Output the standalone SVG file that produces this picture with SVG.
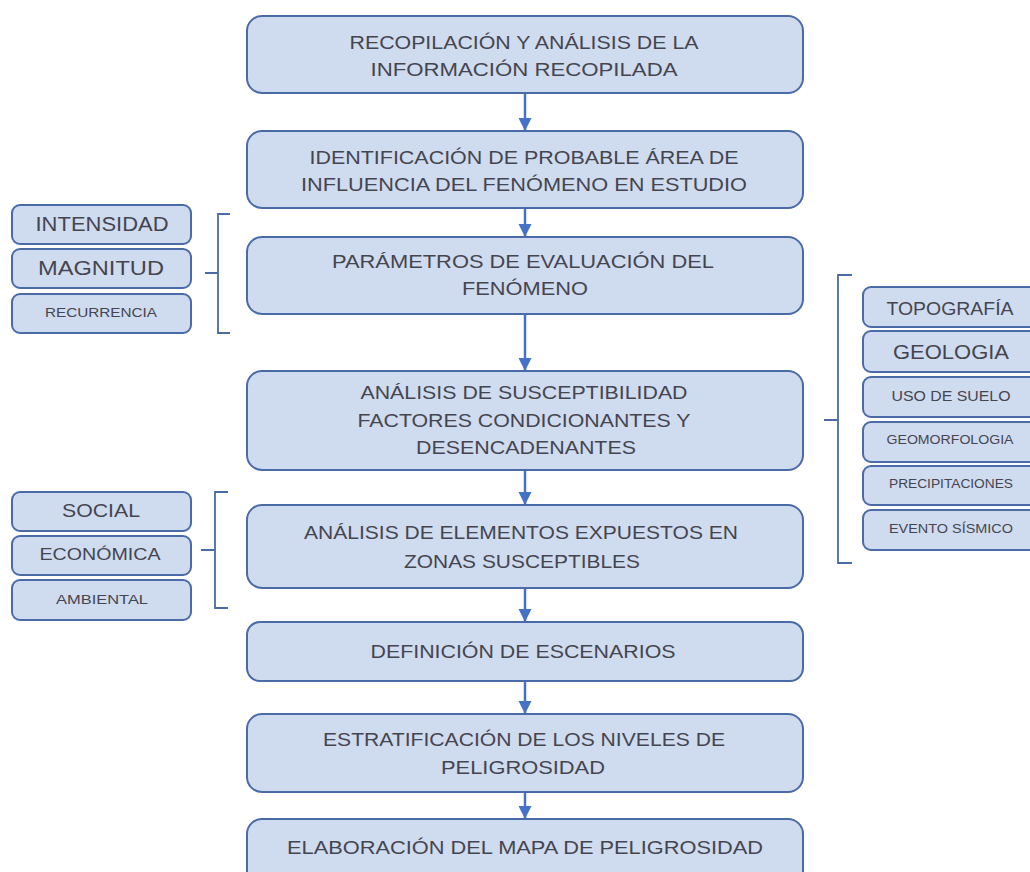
<svg xmlns="http://www.w3.org/2000/svg" width="1030" height="872" viewBox="0 0 1030 872">
<style>
.box{fill:#cfdbef;stroke:#4a6aa8;stroke-width:2}
.t{font-family:"Liberation Sans",Arial,sans-serif;fill:#454550;text-anchor:middle}
.m{font-size:19px}
.con{stroke:#4472c4;stroke-width:2.5;fill:none}
.br{stroke:#4a6aa8;stroke-width:1.8;fill:none}
</style>
<defs>
<marker id="ah" markerUnits="userSpaceOnUse" markerWidth="14" markerHeight="14" refX="12" refY="6.5" orient="auto">
<path d="M0,0 L13,6.5 L0,13 Z" fill="#4472c4"/>
</marker>
</defs>
<rect width="1030" height="872" fill="#ffffff"/>
<g id="connectors">
<line class="con" x1="525" y1="93" x2="525" y2="130" marker-end="url(#ah)"/>
<line class="con" x1="525" y1="208" x2="525" y2="236" marker-end="url(#ah)"/>
<line class="con" x1="525" y1="314" x2="525" y2="370" marker-end="url(#ah)"/>
<line class="con" x1="525" y1="470" x2="525" y2="504" marker-end="url(#ah)"/>
<line class="con" x1="525" y1="588" x2="525" y2="621" marker-end="url(#ah)"/>
<line class="con" x1="525" y1="681" x2="525" y2="713" marker-end="url(#ah)"/>
<line class="con" x1="525" y1="792" x2="525" y2="818" marker-end="url(#ah)"/>
<path class="br" d="M230,214 H218 V333 H230 M218,273 H205"/>
<path class="br" d="M228,492 H215 V608 H228 M215,550 H201"/>
<path class="br" d="M852,275 H838 V563 H852 M838,420 H824"/>
</g>
<g id="n1"><rect class="box" x="247" y="16" width="556" height="77" rx="15"/>
<text class="t m" x="524" y="49" textLength="349" lengthAdjust="spacingAndGlyphs">RECOPILACIÓN Y ANÁLISIS DE LA</text>
<text class="t m" x="524" y="76" textLength="307" lengthAdjust="spacingAndGlyphs">INFORMACIÓN RECOPILADA</text></g>
<g id="n2"><rect class="box" x="247" y="131" width="556" height="77" rx="15"/>
<text class="t m" x="524" y="164" textLength="429" lengthAdjust="spacingAndGlyphs">IDENTIFICACIÓN DE PROBABLE ÁREA DE</text>
<text class="t m" x="524" y="191" textLength="446" lengthAdjust="spacingAndGlyphs">INFLUENCIA DEL FENÓMENO EN ESTUDIO</text></g>
<g id="n3"><rect class="box" x="247" y="237" width="556" height="77" rx="15"/>
<text class="t m" x="523" y="268" textLength="382" lengthAdjust="spacingAndGlyphs">PARÁMETROS DE EVALUACIÓN DEL</text>
<text class="t m" x="525" y="295" textLength="126" lengthAdjust="spacingAndGlyphs">FENÓMENO</text></g>
<g id="n4"><rect class="box" x="247" y="371" width="556" height="99" rx="15"/>
<text class="t m" x="524" y="399" textLength="327" lengthAdjust="spacingAndGlyphs">ANÁLISIS DE SUSCEPTIBILIDAD</text>
<text class="t m" x="524" y="427" textLength="333" lengthAdjust="spacingAndGlyphs">FACTORES CONDICIONANTES Y</text>
<text class="t m" x="526" y="454" textLength="220" lengthAdjust="spacingAndGlyphs">DESENCADENANTES</text></g>
<g id="n5"><rect class="box" x="247" y="505" width="556" height="83" rx="15"/>
<text class="t m" x="521" y="539" textLength="434" lengthAdjust="spacingAndGlyphs">ANÁLISIS DE ELEMENTOS EXPUESTOS EN</text>
<text class="t m" x="522" y="568" textLength="236" lengthAdjust="spacingAndGlyphs">ZONAS SUSCEPTIBLES</text></g>
<g id="n6"><rect class="box" x="247" y="622" width="556" height="59" rx="13"/>
<text class="t m" x="523" y="658" textLength="305" lengthAdjust="spacingAndGlyphs">DEFINICIÓN DE ESCENARIOS</text></g>
<g id="n7"><rect class="box" x="247" y="714" width="556" height="78" rx="15"/>
<text class="t m" x="524" y="746" textLength="402" lengthAdjust="spacingAndGlyphs">ESTRATIFICACIÓN DE LOS NIVELES DE</text>
<text class="t m" x="523" y="774" textLength="164" lengthAdjust="spacingAndGlyphs">PELIGROSIDAD</text></g>
<g id="n8"><rect class="box" x="247" y="819" width="556" height="80" rx="15"/>
<text class="t m" x="525" y="854" textLength="476" lengthAdjust="spacingAndGlyphs">ELABORACIÓN DEL MAPA DE PELIGROSIDAD</text></g>
<g id="intensidad"><rect class="box" x="12" y="205" width="179" height="39" rx="8"/>
<text class="t" x="102" y="231" font-size="20" textLength="133" lengthAdjust="spacingAndGlyphs">INTENSIDAD</text></g>
<g id="magnitud"><rect class="box" x="12" y="249" width="179" height="39" rx="8"/>
<text class="t" x="101" y="275" font-size="20" textLength="126" lengthAdjust="spacingAndGlyphs">MAGNITUD</text></g>
<g id="recurrencia"><rect class="box" x="12" y="294" width="179" height="39" rx="8"/>
<text class="t" x="101" y="317" font-size="13" textLength="112" lengthAdjust="spacingAndGlyphs">RECURRENCIA</text></g>
<g id="social"><rect class="box" x="12" y="492" width="179" height="39" rx="8"/>
<text class="t" x="101" y="517" font-size="19" textLength="78" lengthAdjust="spacingAndGlyphs">SOCIAL</text></g>
<g id="economica"><rect class="box" x="12" y="536" width="179" height="39" rx="8"/>
<text class="t" x="100" y="560" font-size="17" textLength="121" lengthAdjust="spacingAndGlyphs">ECONÓMICA</text></g>
<g id="ambiental"><rect class="box" x="12" y="580" width="179" height="40" rx="8"/>
<text class="t" x="102" y="604" font-size="13" textLength="92" lengthAdjust="spacingAndGlyphs">AMBIENTAL</text></g>
<g id="topografia"><rect class="box" x="863" y="287" width="180" height="40" rx="8"/>
<text class="t" x="950" y="315" font-size="19" textLength="127" lengthAdjust="spacingAndGlyphs">TOPOGRAFÍA</text></g>
<g id="geologia"><rect class="box" x="863" y="331" width="180" height="41" rx="8"/>
<text class="t" x="951" y="359" font-size="21" textLength="116" lengthAdjust="spacingAndGlyphs">GEOLOGIA</text></g>
<g id="usosuelo"><rect class="box" x="863" y="377" width="180" height="40" rx="8"/>
<text class="t" x="951" y="401" font-size="14" textLength="119" lengthAdjust="spacingAndGlyphs">USO  DE SUELO</text></g>
<g id="geomorfologia"><rect class="box" x="863" y="422" width="180" height="40" rx="8"/>
<text class="t" x="950" y="444" font-size="12" textLength="127" lengthAdjust="spacingAndGlyphs">GEOMORFOLOGIA</text></g>
<g id="precipitaciones"><rect class="box" x="863" y="466" width="180" height="39" rx="8"/>
<text class="t" x="951" y="488" font-size="12" textLength="124" lengthAdjust="spacingAndGlyphs">PRECIPITACIONES</text></g>
<g id="evento"><rect class="box" x="863" y="510" width="180" height="40" rx="8"/>
<text class="t" x="951" y="533" font-size="12" textLength="124" lengthAdjust="spacingAndGlyphs">EVENTO SÍSMICO</text></g>
</svg>
